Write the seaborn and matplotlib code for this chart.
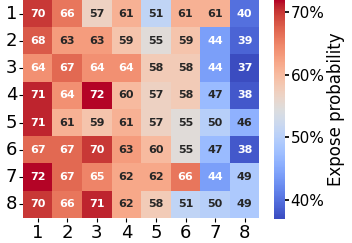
import matplotlib
matplotlib.use("Agg")
import matplotlib.pyplot as plt
import seaborn as sns
import numpy as np
from matplotlib.ticker import FuncFormatter

row_labels = ["1", "2", "3", "4", "5", "6", "7", "8"]
col_labels = ["1", "2", "3", "4", "5", "6", "7", "8"]
row1 = [70, 66, 57, 61, 51, 61, 61, 40]
row2 = [68, 63, 63, 59, 55, 59, 44, 39]
row3 = [64, 67, 64, 64, 58, 58, 44, 37]
row4 = [71, 64, 72, 60, 57, 58, 47, 38]
row5 = [71, 61, 59, 61, 57, 55, 50, 46]
row6 = [67, 67, 70, 63, 60, 55, 47, 38]
row7 = [72, 67, 65, 62, 62, 66, 44, 49]
row8 = [70, 66, 71, 62, 58, 51, 50, 49]

data = np.array([row1, row2, row3, row4, row5, row6, row7, row8])

sns.set_theme(style="white", rc={"text.color": "black", "xtick.color": "black",
                                 "ytick.color": "black", "axes.labelcolor": "black"})
plt.rcParams['font.family'] = ['DejaVu Sans']

fig = plt.figure(figsize=(3.52, 2.43), dpi=100)
ax = fig.add_axes([0.065, 0.103, 0.672, 0.897])
cax = fig.add_axes([0.778, 0.1, 0.032, 0.9])

sns.heatmap(data, ax=ax, cbar_ax=cax, cmap="coolwarm", annot=True, fmt="d",
            annot_kws={"fontsize": 8, "fontweight": "bold"},
            xticklabels=col_labels, yticklabels=row_labels)
ax.tick_params(axis="both", labelsize=13, length=3, width=0.8, color="black", pad=1, left=True, bottom=True)
ax.set_yticklabels(row_labels, rotation=0)
cax.yaxis.set_major_formatter(FuncFormatter(lambda v, p: f"{v:.0f}%"))
cax.tick_params(labelsize=11, length=3, pad=1, right=True, colors="black")
cax.set_ylabel("Expose probability", fontsize=12, labelpad=2, color="black")
cax.set_yticks([40, 50, 60, 70])

fig.savefig("out.png", dpi=100)
